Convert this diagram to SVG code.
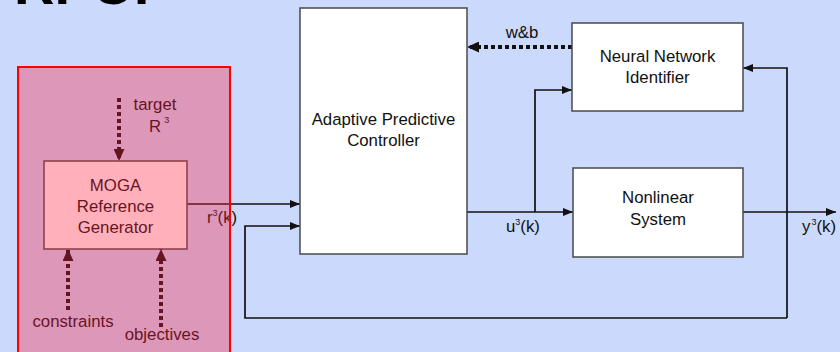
<svg xmlns="http://www.w3.org/2000/svg" width="840" height="352" viewBox="0 0 840 352">
<style>
.bg{fill:#cbd9fc}
.box{fill:#ffffff;stroke:#4a4a4a;stroke-width:1.5}
.t{font-family:"Liberation Sans",Arial,sans-serif;font-size:16.8px;fill:#111}
.c{text-anchor:middle}
.ln{fill:none;stroke:#111;stroke-width:1.7}
.dot{fill:none;stroke:#111;stroke-width:4;stroke-dasharray:4 3}
.sup{font-size:9px}
</style>
<defs>
<marker id="ah" viewBox="0 0 10 8" refX="10" refY="4" markerWidth="10" markerHeight="8" markerUnits="userSpaceOnUse" orient="auto">
<path d="M0,0 L10,4 L0,8 z" fill="#111"/>
</marker>
<marker id="ahb" viewBox="0 0 12 11" refX="12" refY="5.5" markerWidth="12" markerHeight="11" markerUnits="userSpaceOnUse" orient="auto">
<path d="M0,0 L12,5.5 L0,11 z" fill="#111"/>
</marker>
</defs>
<rect class="bg" x="0" y="0" width="840" height="352"/>
<text x="14" y="4" font-family="'Liberation Sans',Arial,sans-serif" font-size="56" font-weight="bold" fill="#000">RPC:</text>

<g id="connectors">
<path class="dot" d="M572,47 H467" marker-end="url(#ahb)"/>
<path class="dot" d="M119,98 V161" marker-end="url(#ahb)"/>
<path class="dot" d="M68,310 V249" marker-end="url(#ahb)"/>
<path class="dot" d="M161,327 V249" marker-end="url(#ahb)"/>
<path class="ln" d="M187,204 H300" marker-end="url(#ah)"/>
<path class="ln" d="M467,212 H573" marker-end="url(#ah)"/>
<path class="ln" d="M535,212 V90 H572" marker-end="url(#ah)"/>
<path class="ln" d="M743,212 H836" marker-end="url(#ah)"/>
<path class="ln" d="M787,318 V68 H743" marker-end="url(#ah)"/>
<path class="ln" d="M787,318 H245 V226 H300" marker-end="url(#ah)"/>
<text class="t c" x="522" y="38">w&amp;b</text>
<text class="t" x="207" y="223">r<tspan class="sup" dy="-7">3</tspan><tspan dy="7">(k)</tspan></text>
<text class="t" x="506" y="232">u<tspan class="sup" dy="-7">3</tspan><tspan dy="7">(k)</tspan></text>
<text class="t" x="802" y="232">y<tspan class="sup" dx="1" dy="-7">3</tspan><tspan dy="7">(k)</tspan></text>
<text class="t c" x="155" y="110">target</text>
<text class="t" x="149" y="132">R<tspan class="sup" dx="3" dy="-9">3</tspan></text>
<text class="t c" x="73" y="327">constraints</text>
<text class="t c" x="162" y="340">objectives</text>
</g>

<g id="moga">
<rect class="box" x="44" y="161" width="143" height="88" stroke="#111"/>
<text class="t c" x="115.5" y="191">MOGA</text>
<text class="t c" x="115.5" y="212">Reference</text>
<text class="t c" x="115.5" y="233">Generator</text>
</g>

<g id="apc">
<rect class="box" x="300" y="8" width="167" height="246"/>
<text class="t c" x="383.5" y="125">Adaptive Predictive</text>
<text class="t c" x="383.5" y="146">Controller</text>
</g>

<g id="nn">
<rect class="box" x="572" y="23" width="171" height="88"/>
<text class="t c" x="657.5" y="62">Neural Network</text>
<text class="t c" x="657.5" y="83">Identifier</text>
</g>

<g id="plant">
<rect class="box" x="573" y="168" width="170" height="89"/>
<text class="t c" x="658" y="203">Nonlinear</text>
<text class="t c" x="658" y="225">System</text>
</g>

<g id="region">
<rect x="18" y="67" width="212" height="300" fill="#ff1e3c" fill-opacity="0.35" stroke="#ff0000" stroke-width="2"/>
</g>
</svg>
